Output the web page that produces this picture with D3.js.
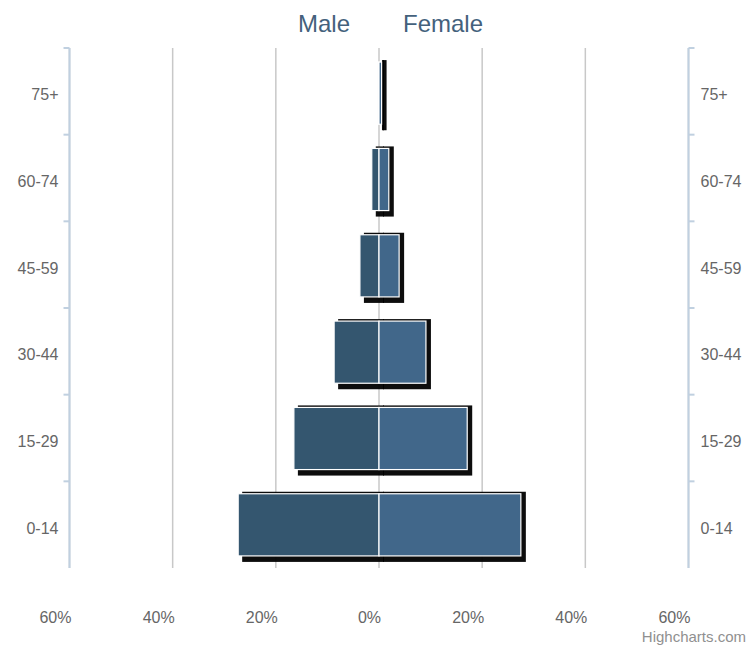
<!DOCTYPE html>
<html>
<head>
<meta charset="utf-8">
<script src="https://cdn.jsdelivr.net/npm/d3@7"></script>
<style>
  body { margin: 0; background: #fff; }
  svg { display: block; font-family: "Liberation Sans", Arial, Helvetica, sans-serif; }
</style>
</head>
<body>
<svg id="chart" width="751" height="650"></svg>
<script>
const categories = ["75+", "60-74", "45-59", "30-44", "15-29", "0-14"];
const male = [0.2, 1.4, 3.7, 8.7, 16.5, 27.3];
const female = [0.5, 1.9, 3.9, 9.1, 17.1, 27.5];
const xTicks = [-60, -40, -20, 0, 20, 40, 60];
const seriesNames = ["Male", "Female"];

const svg = d3.select("#chart");
const plotLeft = 69.5, plotRight = 688.5, plotTop = 48, plotBottom = 568;

const x = d3.scaleLinear().domain([-60, 60]).range([plotLeft, plotRight]);
const y = d3.scaleBand().domain(categories).range([plotTop + 2, plotBottom]).paddingInner(0.28).paddingOuter(0.14);
const yBand = d3.scaleBand().domain(categories).range([plotTop, plotBottom]);

// Gridlines
svg.append("g").selectAll("line").data(xTicks).join("line")
  .attr("x1", d => x(d)).attr("x2", d => x(d))
  .attr("y1", plotTop).attr("y2", plotBottom)
  .attr("stroke", "#c8c8c8").attr("stroke-width", 1.5);

// Category axes (left and right)
function catAxis(xPos, dir) {
  const g = svg.append("g");
  g.append("line").attr("x1", xPos).attr("x2", xPos).attr("y1", plotTop).attr("y2", plotBottom)
    .attr("stroke", "#C0D0E0").attr("stroke-width", 2);
  g.selectAll("line.tick").data(categories).join("line").attr("class", "tick")
    .attr("x1", xPos).attr("x2", xPos + dir * 6)
    .attr("y1", d => yBand(d)).attr("y2", d => yBand(d))
    .attr("stroke", "#C0D0E0").attr("stroke-width", 2);
  g.selectAll("text").data(categories).join("text")
    .attr("x", dir < 0 ? xPos - 11 : xPos + 12)
    .attr("y", d => yBand(d) + yBand.bandwidth() / 2 + 9)
    .attr("text-anchor", dir < 0 ? "end" : "start")
    .attr("fill", "#666").attr("font-size", 16)
    .text(d => d);
}
catAxis(plotLeft, -1);
catAxis(plotRight, 1);

// Value axis labels
svg.append("g").selectAll("text").data(xTicks).join("text")
  .attr("x", d => x(d) + 2).attr("y", 623)
  .attr("text-anchor", "end").attr("fill", "#666").attr("font-size", 16)
  .text(d => Math.abs(d) + "%");

// Bars data
const bars = [];
categories.forEach((c, i) => {
  bars.push({ c, x0: x(-male[i]), x1: x(0), color: "#34566f" });
  bars.push({ c, x0: x(0), x1: x(female[i]), color: "#41678a" });
});

// Shadows
svg.append("g").selectAll("rect").data(bars).join("rect")
  .attr("x", d => d.x0 + 4).attr("y", d => y(d.c) - 2)
  .attr("width", d => Math.max(0, d.x1 - d.x0 + 1))
  .attr("height", y.bandwidth() + 8)
  .attr("fill", "#000").attr("opacity", 0.95);

// Bars
svg.append("g").selectAll("rect").data(bars).join("rect")
  .attr("x", d => d.x0).attr("y", d => y(d.c))
  .attr("width", d => Math.max(0.5, d.x1 - d.x0))
  .attr("height", y.bandwidth())
  .attr("fill", d => d.color)
  .attr("stroke", "#fff").attr("stroke-width", 1.2);

// Titles
svg.append("text").attr("x", 350).attr("y", 32).attr("text-anchor", "end")
  .attr("fill", "#44617c").attr("font-size", 24).text(seriesNames[0]);
svg.append("text").attr("x", 403).attr("y", 32).attr("text-anchor", "start")
  .attr("fill", "#44617c").attr("font-size", 24).text(seriesNames[1]);

// Credits
svg.append("text").attr("x", 746).attr("y", 642).attr("text-anchor", "end")
  .attr("fill", "#909090").attr("font-size", 15).text("Highcharts.com");
</script>
</body>
</html>
